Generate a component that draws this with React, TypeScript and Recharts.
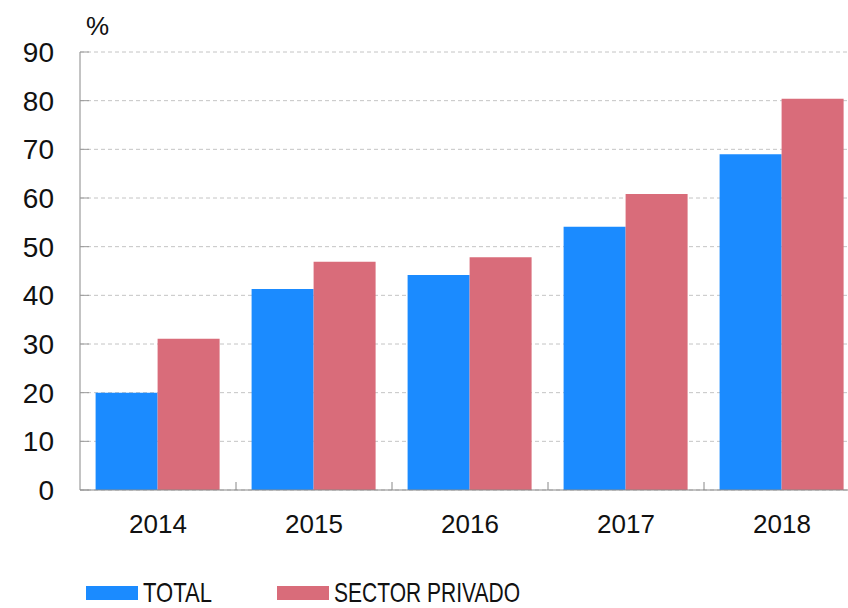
import React from 'react';
import { BarChart, Bar, XAxis, YAxis, CartesianGrid, Legend, Label } from 'recharts';

const years = ['2014', '2015', '2016', '2017', '2018'];
const total = [20.0, 41.3, 44.2, 54.1, 69.0];
const sectorPrivado = [31.1, 46.9, 47.8, 60.8, 80.4];
const yTicks = [0, 10, 20, 30, 40, 50, 60, 70, 80, 90];
const seriesNames = ['TOTAL', 'SECTOR PRIVADO'];
const colors = ['#1B8BFF', '#D96C7A'];

const data = years.map((y, i) => ({ year: y, total: total[i], privado: sectorPrivado[i] }));

const FONT = '"Liberation Sans", Arial, Helvetica, sans-serif';
const NARROW = '"Liberation Sans Narrow", "Liberation Sans", Arial, sans-serif';

const XTick = (props: any) => {
  const { x, y, payload, index } = props;
  const off = payload && payload.offset ? payload.offset : 0;
  const axisY = y - 25;
  return (
    <g>
      {index > 0 && (
        <line x1={x - off} x2={x - off} y1={axisY} y2={axisY - 8} stroke="#888" strokeWidth={1} />
      )}
      <text x={x} y={y} dy="0.71em" textAnchor="middle" fontSize={26} fill="#111" fontFamily={FONT}>
        {payload.value}
      </text>
    </g>
  );
};

const YTick = (props: any) => {
  const { x, y, payload } = props;
  const axisX = x + 26;
  return (
    <g>
      <line x1={axisX} x2={axisX + 9} y1={y} y2={y} stroke="#999" strokeWidth={1} />
      <text x={x} y={y} dy="0.355em" textAnchor="end" fontSize={28} fill="#111" fontFamily={FONT}>
        {payload.value}
      </text>
    </g>
  );
};

const LegendContent = () => (
  <svg width={848} height={30} style={{ display: 'block', overflow: 'visible' }}>
    <rect x={86} y={9} width={52} height={14} fill={colors[0]} />
    <text x={143} y={25} fontSize={28} fill="#111" fontFamily={NARROW} textLength={69} lengthAdjust="spacingAndGlyphs">
      {seriesNames[0]}
    </text>
    <rect x={277} y={9} width={52} height={14} fill={colors[1]} />
    <text x={334} y={25} fontSize={28} fill="#111" fontFamily={NARROW} textLength={186} lengthAdjust="spacingAndGlyphs">
      {seriesNames[1]}
    </text>
  </svg>
);

const PercentLabel = (props: any) => {
  const vb = props.viewBox || { x: 20, y: 52, width: 60 };
  return (
    <text x={vb.x + vb.width + 6} y={vb.y - 17} fontSize={26} fill="#111" fontFamily={FONT}>
      %
    </text>
  );
};

export default function App() {
  return (
    <div style={{ position: 'fixed', left: 0, top: 0, width: 848, height: 608, overflow: 'hidden', background: '#fff' }}>
      <BarChart
        width={870}
        height={608}
        data={data}
        margin={{ top: 52, right: 10, bottom: 58, left: 20 }}
        barCategoryGap="10%"
        barGap={0}
      >
        <CartesianGrid vertical={false} stroke="#c4c4c4" strokeDasharray="4 3" />
        <XAxis
          dataKey="year"
          height={60}
          axisLine={{ stroke: '#888' }}
          tickLine={false}
          tickSize={0}
          tickMargin={25}
          tick={<XTick />}
          interval={0}
        />
        <YAxis
          width={60}
          domain={[0, 90]}
          ticks={yTicks}
          axisLine={{ stroke: '#888' }}
          tickLine={false}
          tickSize={0}
          tickMargin={26}
          tick={<YTick />}
          interval={0}
        >
          <Label content={<PercentLabel />} />
        </YAxis>
        <Bar dataKey="total" name={seriesNames[0]} fill={colors[0]} isAnimationActive={false} />
        <Bar dataKey="privado" name={seriesNames[1]} fill={colors[1]} isAnimationActive={false} />
        <Legend
          layout="horizontal"
          verticalAlign="middle"
          align="center"
          content={<LegendContent />}
          wrapperStyle={{ position: 'absolute', left: 0, top: 577, width: 848, height: 30 }}
        />
      </BarChart>
    </div>
  );
}
